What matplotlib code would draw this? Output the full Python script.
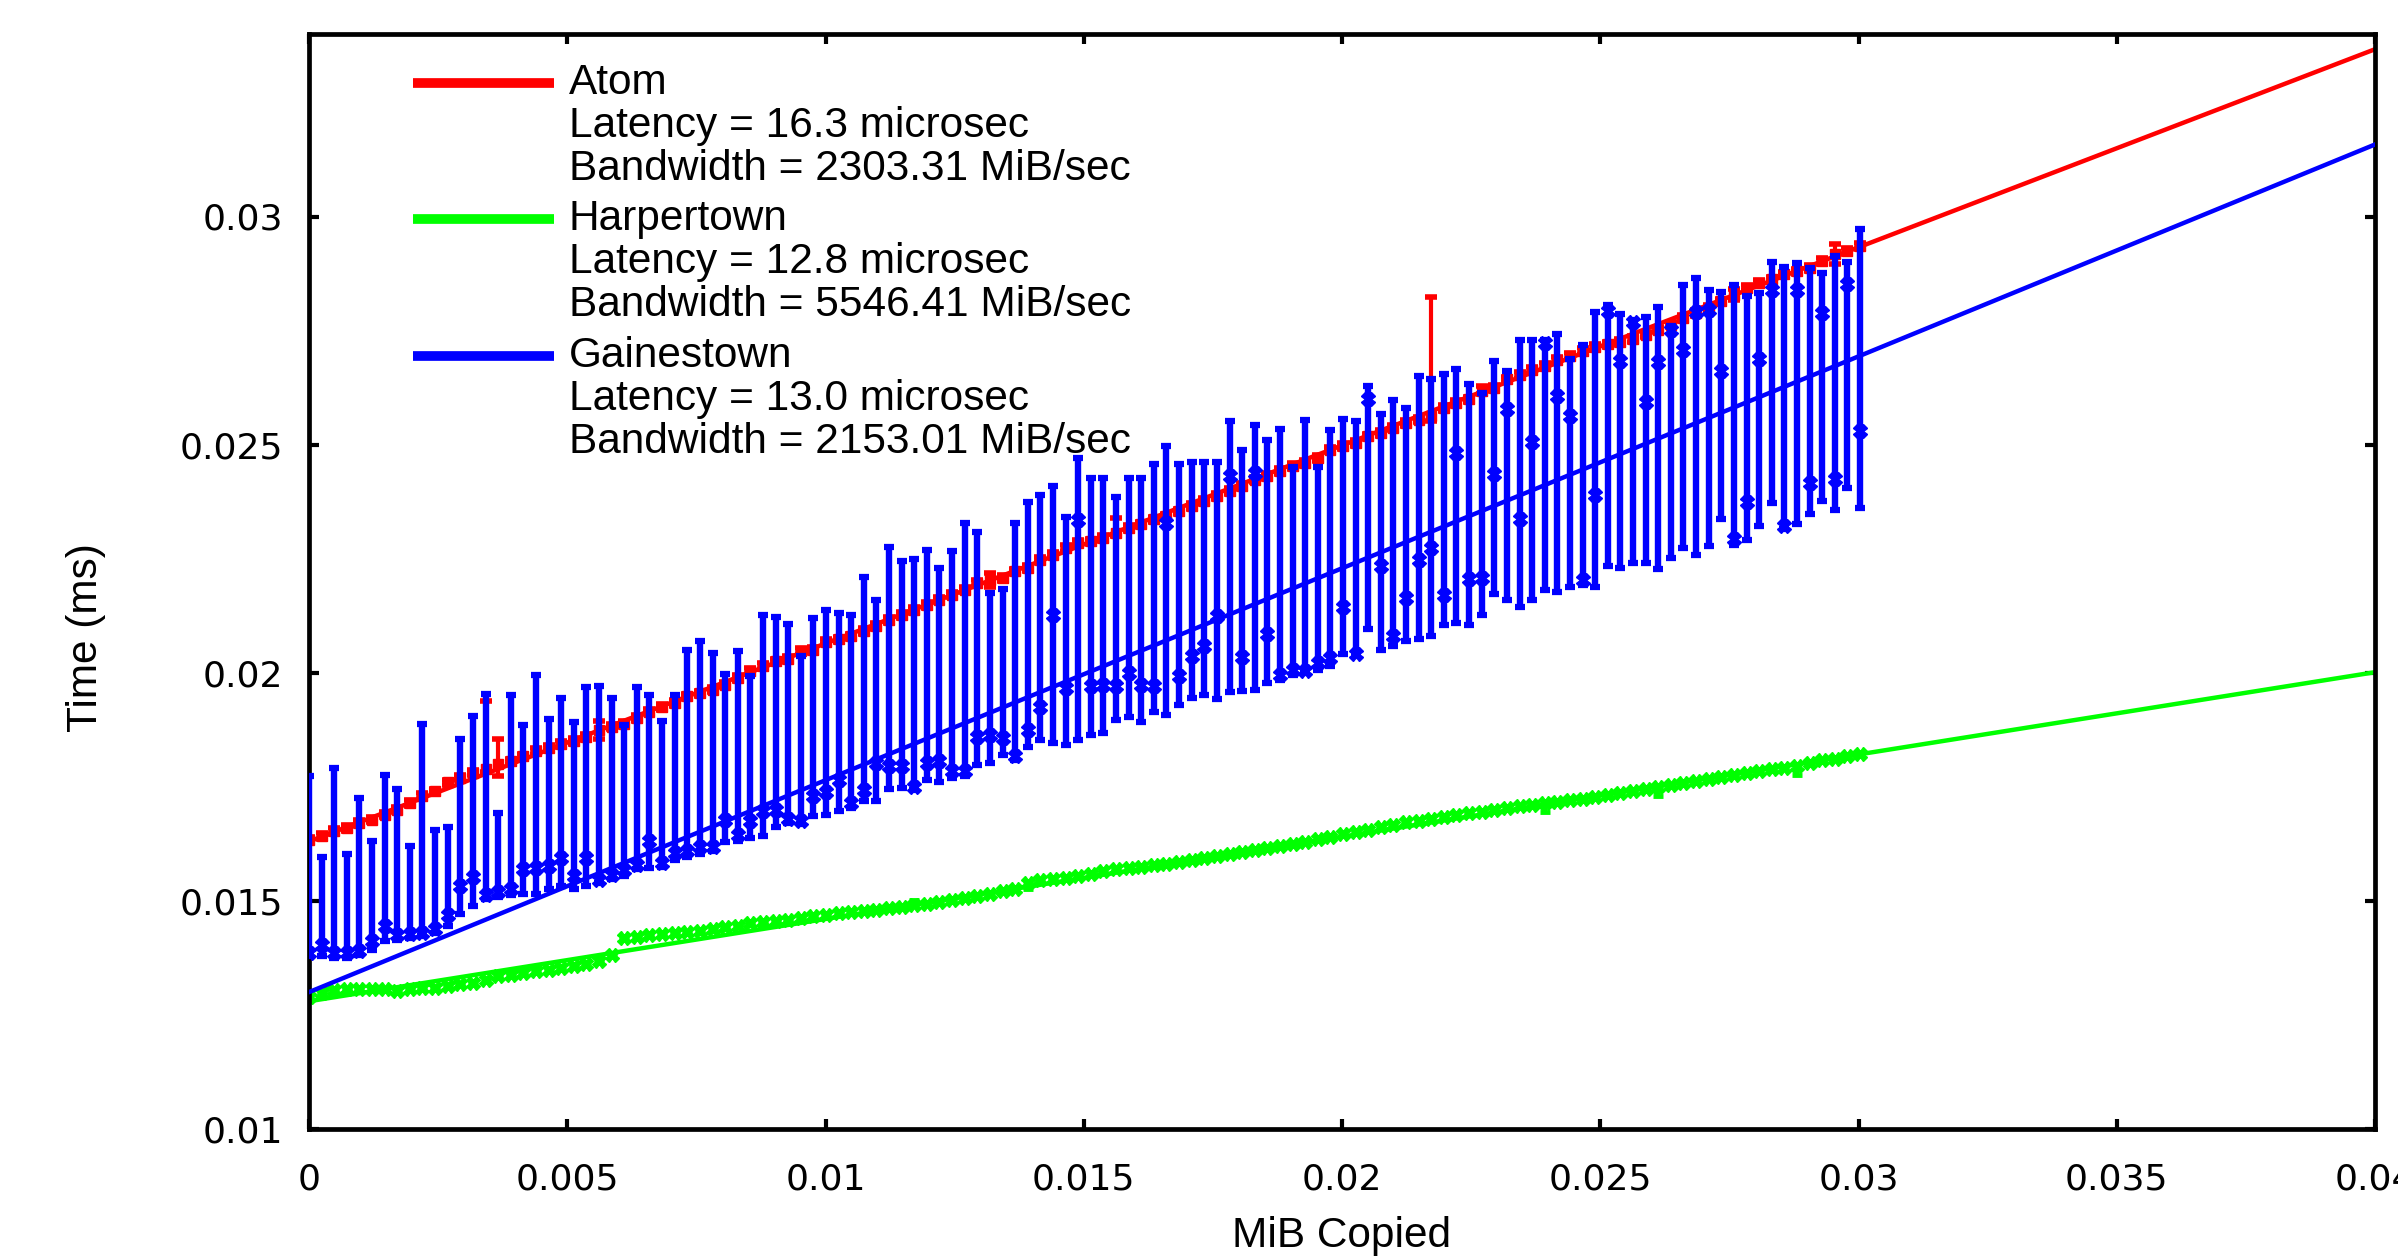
import numpy as np
import matplotlib.pyplot as plt

plt.rcParams['font.family'] = ['Liberation Sans', 'DejaVu Sans']

# memcpy sizes in 256 byte steps, shown in MiB
copy_bytes = np.arange(0, 31489, 256)
mib = copy_bytes / 1048576.0

names = ['Atom', 'Harpertown', 'Gainestown']
colors = ['#ff0000', '#00ff00', '#0000ff']
latency_us = [16.3, 12.8, 13.0]
bandwidth_mibs = [2303.31, 5546.41, 2153.01]

atom_time = [
    0.01634, 0.01642, 0.01653, 0.01660, 0.01671, 0.01678, 0.01689, 0.01700, 0.01715, 0.01730,
    0.01740, 0.01760, 0.01770, 0.01781, 0.01788, 0.01799, 0.01806, 0.01817, 0.01828, 0.01836,
    0.01844, 0.01850, 0.01859, 0.01875, 0.01882, 0.01888, 0.01901, 0.01915, 0.01925, 0.01934,
    0.01948, 0.01955, 0.01963, 0.01974, 0.01988, 0.02004, 0.02015, 0.02025, 0.02030, 0.02048,
    0.02050, 0.02068, 0.02073, 0.02080, 0.02091, 0.02102, 0.02116, 0.02127, 0.02138, 0.02149,
    0.02160, 0.02171, 0.02182, 0.02197, 0.02204, 0.02208, 0.02222, 0.02230, 0.02248, 0.02259,
    0.02273, 0.02285, 0.02288, 0.02295, 0.02306, 0.02317, 0.02325, 0.02336, 0.02343, 0.02354,
    0.02365, 0.02376, 0.02387, 0.02398, 0.02409, 0.02423, 0.02431, 0.02442, 0.02453, 0.02460,
    0.02471, 0.02489, 0.02497, 0.02504, 0.02518, 0.02526, 0.02537, 0.02547, 0.02555, 0.02562,
    0.02580, 0.02591, 0.02599, 0.02618, 0.02624, 0.02643, 0.02653, 0.02664, 0.02672, 0.02686,
    0.02694, 0.02705, 0.02714, 0.02720, 0.02725, 0.02732, 0.02741, 0.02752, 0.02763, 0.02778,
    0.02789, 0.02800, 0.02814, 0.02829, 0.02844, 0.02855, 0.02862, 0.02873, 0.02880, 0.02887,
    0.02902, 0.02918, 0.02924, 0.02935,
]
# error bar half lengths (ms); only a few are larger than the default
atom_err_default = 0.00006
atom_err_lo = {15: 0.00026, 23: 0.00020, 54: 0.00015, 89: 0.00011, 113: 0.00012, 121: 0.00022}
atom_err_hi = {14: 0.00150, 15: 0.00055, 23: 0.00020, 54: 0.00015, 64: 0.00033,
               89: 0.00262, 93: 0.00010, 113: 0.00012, 121: 0.00022}

harper_time = [
    0.01290, 0.01298, 0.01304, 0.01306, 0.01307, 0.01307, 0.01306, 0.01303, 0.01306, 0.01309,
    0.01309, 0.01313, 0.01317, 0.01320, 0.01327, 0.01335, 0.01338, 0.01342, 0.01346, 0.01349,
    0.01353, 0.01357, 0.01362, 0.01368, 0.01382, 0.01418, 0.01421, 0.01425, 0.01427, 0.01429,
    0.01431, 0.01434, 0.01438, 0.01442, 0.01446, 0.01451, 0.01453, 0.01455, 0.01458, 0.01462,
    0.01467, 0.01470, 0.01473, 0.01476, 0.01478, 0.01481, 0.01484, 0.01487, 0.01492, 0.01494,
    0.01498, 0.01502, 0.01507, 0.01511, 0.01516, 0.01522, 0.01527, 0.01540, 0.01545, 0.01548,
    0.01551, 0.01555, 0.01560, 0.01566, 0.01569, 0.01572, 0.01575, 0.01578, 0.01581, 0.01585,
    0.01589, 0.01594, 0.01598, 0.01603, 0.01607, 0.01611, 0.01616, 0.01620, 0.01625, 0.01630,
    0.01636, 0.01641, 0.01646, 0.01651, 0.01656, 0.01661, 0.01667, 0.01672, 0.01676, 0.01680,
    0.01684, 0.01688, 0.01692, 0.01695, 0.01699, 0.01703, 0.01707, 0.01710, 0.01714, 0.01717,
    0.01721, 0.01724, 0.01728, 0.01732, 0.01737, 0.01741, 0.01745, 0.01750, 0.01753, 0.01758,
    0.01762, 0.01768, 0.01772, 0.01776, 0.01780, 0.01784, 0.01788, 0.01792, 0.01796, 0.01802,
    0.01808, 0.01812, 0.01817, 0.01822,
]
harper_err_default = 0.00004
harper_err_lo = {57: 0.00015, 98: 0.00020, 107: 0.00020, 118: 0.00020}
harper_err_hi = {48: 0.00010}

# Gainestown: low end, marked point, high end of each bar
gaines_lo = [
    0.01380, 0.01379, 0.01375, 0.01375, 0.01382, 0.01393, 0.01412, 0.01415, 0.01419, 0.01422,
    0.01430, 0.01444, 0.01472, 0.01488, 0.01504, 0.01509, 0.01512, 0.01514, 0.01514, 0.01526,
    0.01532, 0.01526, 0.01533, 0.01539, 0.01548, 0.01555, 0.01569, 0.01572, 0.01575, 0.01590,
    0.01597, 0.01603, 0.01610, 0.01630, 0.01632, 0.01637, 0.01642, 0.01661, 0.01670, 0.01669,
    0.01685, 0.01688, 0.01696, 0.01703, 0.01720, 0.01718, 0.01745, 0.01747, 0.01744, 0.01765,
    0.01760, 0.01769, 0.01774, 0.01798, 0.01803, 0.01820, 0.01808, 0.01837, 0.01852, 0.01847,
    0.01842, 0.01853, 0.01864, 0.01868, 0.01896, 0.01903, 0.01893, 0.01913, 0.01908, 0.01930,
    0.01944, 0.01952, 0.01942, 0.01957, 0.01959, 0.01963, 0.01977, 0.01985, 0.01996, 0.01999,
    0.02005, 0.02014, 0.02042, 0.02036, 0.02096, 0.02049, 0.02059, 0.02069, 0.02074, 0.02080,
    0.02105, 0.02109, 0.02105, 0.02127, 0.02173, 0.02160, 0.02144, 0.02160, 0.02182, 0.02178,
    0.02189, 0.02193, 0.02189, 0.02233, 0.02230, 0.02241, 0.02241, 0.02228, 0.02252, 0.02273,
    0.02257, 0.02277, 0.02337, 0.02281, 0.02292, 0.02322, 0.02371, 0.02314, 0.02327, 0.02347,
    0.02376, 0.02357, 0.02405, 0.02361,
]
gaines_mid = [
    0.01386, 0.01404, 0.01386, 0.01386, 0.01390, 0.01412, 0.01444, 0.01426, 0.01428, 0.01430,
    0.01439, 0.01470, 0.01532, 0.01553, 0.01512, 0.01519, 0.01526, 0.01569, 0.01572, 0.01576,
    0.01594, 0.01555, 0.01594, 0.01546, 0.01557, 0.01568, 0.01579, 0.01632, 0.01584, 0.01605,
    0.01610, 0.01619, 0.01619, 0.01678, 0.01645, 0.01674, 0.01696, 0.01700, 0.01679, 0.01674,
    0.01730, 0.01738, 0.01765, 0.01714, 0.01744, 0.01803, 0.01795, 0.01795, 0.01749, 0.01803,
    0.01807, 0.01784, 0.01785, 0.01860, 0.01864, 0.01857, 0.01818, 0.01875, 0.01926, 0.02127,
    0.01966, 0.02334, 0.01970, 0.01974, 0.01972, 0.01999, 0.01974, 0.01970, 0.02328, 0.01992,
    0.02037, 0.02058, 0.02124, 0.02432, 0.02034, 0.02438, 0.02086, 0.01996, 0.02005, 0.02003,
    0.02021, 0.02032, 0.02145, 0.02040, 0.02599, 0.02235, 0.02080, 0.02164, 0.02248, 0.02273,
    0.02171, 0.02482, 0.02205, 0.02208, 0.02436, 0.02577, 0.02336, 0.02505, 0.02722, 0.02606,
    0.02562, 0.02204, 0.02390, 0.02792, 0.02683, 0.02768, 0.02593, 0.02681, 0.02752, 0.02707,
    0.02790, 0.02795, 0.02661, 0.02293, 0.02374, 0.02688, 0.02840, 0.02322, 0.02839, 0.02416,
    0.02789, 0.02425, 0.02853, 0.02529,
]
gaines_hi = [
    0.01773, 0.01597, 0.01792, 0.01602, 0.01726, 0.01632, 0.01775, 0.01746, 0.01620, 0.01888,
    0.01655, 0.01662, 0.01854, 0.01906, 0.01954, 0.01693, 0.01951, 0.01885, 0.01996, 0.01898,
    0.01945, 0.01893, 0.01969, 0.01970, 0.01944, 0.01886, 0.01968, 0.01952, 0.01895, 0.01952,
    0.02049, 0.02069, 0.02043, 0.01998, 0.02048, 0.01993, 0.02127, 0.02122, 0.02107, 0.02036,
    0.02120, 0.02137, 0.02131, 0.02127, 0.02209, 0.02159, 0.02276, 0.02246, 0.02250, 0.02268,
    0.02230, 0.02266, 0.02328, 0.02309, 0.02175, 0.02184, 0.02328, 0.02374, 0.02389, 0.02410,
    0.02341, 0.02471, 0.02427, 0.02427, 0.02385, 0.02427, 0.02427, 0.02458, 0.02498, 0.02458,
    0.02461, 0.02461, 0.02463, 0.02551, 0.02488, 0.02544, 0.02510, 0.02534, 0.02451, 0.02553,
    0.02451, 0.02533, 0.02556, 0.02551, 0.02628, 0.02568, 0.02597, 0.02580, 0.02650, 0.02644,
    0.02654, 0.02665, 0.02632, 0.02613, 0.02683, 0.02661, 0.02729, 0.02729, 0.02729, 0.02743,
    0.02688, 0.02719, 0.02791, 0.02805, 0.02787, 0.02774, 0.02780, 0.02802, 0.02761, 0.02849,
    0.02866, 0.02840, 0.02835, 0.02849, 0.02825, 0.02833, 0.02900, 0.02889, 0.02898, 0.02887,
    0.02877, 0.02913, 0.02901, 0.02973,
]

xticks = [0, 0.005, 0.01, 0.015, 0.02, 0.025, 0.03, 0.035, 0.04]
xticklabels = ['0', '0.005', '0.01', '0.015', '0.02', '0.025', '0.03', '0.035', '0.04']
yticks = [0.01, 0.015, 0.02, 0.025, 0.03]
yticklabels = ['0.01', '0.015', '0.02', '0.025', '0.03']


def err_arrays(n, default, lo, hi):
    e_lo = np.full(n, default)
    e_hi = np.full(n, default)
    for k, v in lo.items():
        e_lo[k] = v
    for k, v in hi.items():
        e_hi[k] = v
    return [e_lo, e_hi]


fig = plt.figure(figsize=(23.98, 12.59), dpi=100)
ax = fig.add_axes([309 / 2398, 1 - 1129 / 1259, 2066 / 2398, 1095 / 1259])

n = len(mib)
x_fit = np.array([0.0, 0.04])

# Atom
ax.errorbar(mib, atom_time, yerr=err_arrays(n, atom_err_default, atom_err_lo, atom_err_hi),
            fmt='s', color=colors[0], ms=7.5, elinewidth=3, capsize=4, capthick=4, zorder=2)
ax.plot(x_fit, latency_us[0] / 1000 + x_fit / bandwidth_mibs[0] * 1000,
        color=colors[0], lw=3.2, zorder=2)

# Harpertown
ax.errorbar(mib, harper_time, yerr=err_arrays(n, harper_err_default, harper_err_lo, harper_err_hi),
            fmt='X', color=colors[1], ms=9.5, elinewidth=3, capsize=3.5, capthick=3.5, zorder=2)
ax.plot(x_fit, latency_us[1] / 1000 + x_fit / bandwidth_mibs[1] * 1000,
        color=colors[1], lw=3.2, zorder=2)

# Gainestown
g_mid = np.array(gaines_mid)
g_err = [g_mid - np.array(gaines_lo), np.array(gaines_hi) - g_mid]
ax.errorbar(mib, g_mid, yerr=g_err, fmt='X', color=colors[2], ms=10,
            elinewidth=4.6, capsize=3.8, capthick=4.5, zorder=3)
ax.plot(x_fit, latency_us[2] / 1000 + x_fit / bandwidth_mibs[2] * 1000,
        color=colors[2], lw=3.2, zorder=3)

ax.set_xlim(0, 0.04)
ax.set_ylim(0.01, 0.034)
ax.set_xticks(xticks)
ax.set_xticklabels(xticklabels)
ax.set_yticks(yticks)
ax.set_yticklabels(yticklabels)
ax.tick_params(direction='in', length=7, width=3, labelsize=26,
               top=True, right=True)
for lab in ax.get_xticklabels() + ax.get_yticklabels():
    lab.set_family('DejaVu Sans')
ax.tick_params(axis='x', pad=24)
ax.tick_params(axis='y', pad=18.5)
for sp in ax.spines.values():
    sp.set_linewidth(3.4)

# key, drawn by hand so the sample sits on the first line of each entry
key_y = [0.955, 0.831, 0.706]
line_gap = 0.0392
for i in range(3):
    y0 = key_y[i]
    ax.plot([0.0503, 0.1186], [y0, y0], transform=ax.transAxes,
            color=colors[i], lw=7, solid_capstyle='butt', clip_on=False, zorder=5)
    lines = [names[i],
             'Latency = %.1f microsec' % latency_us[i],
             'Bandwidth = %.2f MiB/sec' % bandwidth_mibs[i]]
    for j, s in enumerate(lines):
        ax.text(0.1258, y0 - j * line_gap, s, transform=ax.transAxes,
                ha='left', va='center', fontsize=30.5, zorder=5)

fig.text(86 / 2398, 1 - 638 / 1259, 'Time (ms)', rotation=90,
         ha='center', va='center', fontsize=30.5)
fig.text(1342 / 2398, 1 - 1236 / 1259, 'MiB Copied',
         ha='center', va='center', fontsize=30.5)

fig.savefig('out.png', dpi=100)
